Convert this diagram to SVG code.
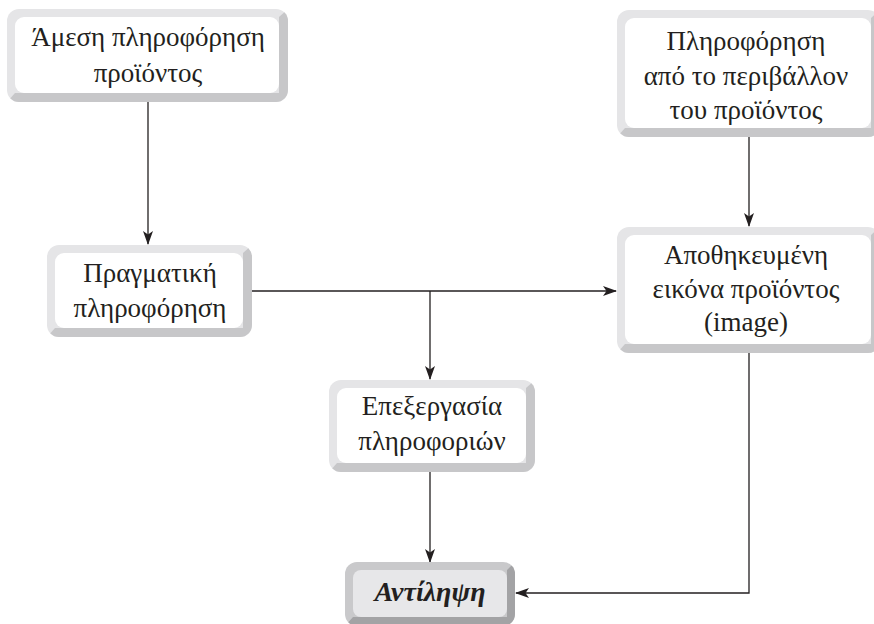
<svg xmlns="http://www.w3.org/2000/svg" width="874" height="624" viewBox="0 0 874 624">
<style>
.lt{fill:#e5e5e7}
.dk{fill:#c7c7c9}
.in{fill:#ffffff}
.lt2{fill:#c9c9cb}
.dk2{fill:#a3a3a5}
.in2{fill:#e7e7e9}
.t{font-family:"Liberation Serif","DejaVu Serif",serif;font-size:27px;fill:#231f20;text-anchor:middle}
.tb{font-weight:bold;font-style:italic;font-size:28px}
.c{fill:none;stroke:#231f20;stroke-width:1.3}
</style>
<defs>
<marker id="ah" viewBox="0 0 14 10" refX="13" refY="5" markerWidth="14" markerHeight="10" markerUnits="userSpaceOnUse" orient="auto">
<path d="M0,0 L14,5 L0,10 L3.5,5 Z" fill="#231f20"/>
</marker>
<clipPath id="c1"><rect x="7" y="9" width="281" height="93" rx="12"/></clipPath>
<clipPath id="c2"><rect x="617" y="10" width="263" height="127" rx="12"/></clipPath>
<clipPath id="c3"><rect x="47" y="245" width="205" height="92" rx="12"/></clipPath>
<clipPath id="c4"><rect x="617" y="227" width="263" height="126" rx="12"/></clipPath>
<clipPath id="c5"><rect x="329" y="380" width="206" height="92" rx="12"/></clipPath>
<clipPath id="c6"><rect x="345" y="562" width="170" height="64" rx="12"/></clipPath>
</defs>

<g id="connectors">
<line class="c" x1="148" y1="102" x2="148" y2="244" marker-end="url(#ah)"/>
<line class="c" x1="252" y1="291" x2="616" y2="291" marker-end="url(#ah)"/>
<line class="c" x1="430" y1="291" x2="430" y2="379" marker-end="url(#ah)"/>
<line class="c" x1="749" y1="137" x2="749" y2="226" marker-end="url(#ah)"/>
<line class="c" x1="430" y1="472" x2="430" y2="562" marker-end="url(#ah)"/>
<polyline class="c" points="749,353 749,593 516,593" marker-end="url(#ah)"/>
</g>

<g id="n1">
<rect class="lt" x="7" y="9" width="281" height="93" rx="12"/>
<polygon class="dk" clip-path="url(#c1)" points="288,9 288,102 7,102 15,93 279,93 279,17"/>
<rect class="in" x="15" y="17" width="264" height="76" rx="9"/>
<text class="t" x="148" y="46">Άμεση πληροφόρηση</text>
<text class="t" x="148" y="82">προϊόντος</text>
</g>

<g id="n2">
<rect class="lt" x="617" y="10" width="263" height="127" rx="12"/>
<polygon class="dk" clip-path="url(#c2)" points="880,10 880,137 617,137 625,128 871,128 871,18"/>
<rect class="in" x="625" y="18" width="246" height="110" rx="9"/>
<text class="t" x="746" y="50">Πληροφόρηση</text>
<text class="t" x="746" y="85">από το περιβάλλον</text>
<text class="t" x="746" y="119">του προϊόντος</text>
</g>

<g id="n3">
<rect class="lt" x="47" y="245" width="205" height="92" rx="12"/>
<polygon class="dk" clip-path="url(#c3)" points="252,245 252,337 47,337 55,328 243,328 243,253"/>
<rect class="in" x="55" y="253" width="188" height="75" rx="9"/>
<text class="t" x="150" y="282">Πραγματική</text>
<text class="t" x="150" y="317">πληροφόρηση</text>
</g>

<g id="n4">
<rect class="lt" x="617" y="227" width="263" height="126" rx="12"/>
<polygon class="dk" clip-path="url(#c4)" points="880,227 880,353 617,353 625,344 871,344 871,235"/>
<rect class="in" x="625" y="235" width="246" height="109" rx="9"/>
<text class="t" x="746" y="264">Αποθηκευμένη</text>
<text class="t" x="746" y="298">εικόνα προϊόντος</text>
<text class="t" x="746" y="331">(image)</text>
</g>

<g id="n5">
<rect class="lt" x="329" y="380" width="206" height="92" rx="12"/>
<polygon class="dk" clip-path="url(#c5)" points="535,380 535,472 329,472 337,463 526,463 526,388"/>
<rect class="in" x="337" y="388" width="189" height="75" rx="9"/>
<text class="t" x="432" y="415">Επεξεργασία</text>
<text class="t" x="432" y="450">πληροφοριών</text>
</g>

<g id="n6">
<rect class="lt2" x="345" y="562" width="170" height="64" rx="12"/>
<polygon class="dk2" clip-path="url(#c6)" points="515,562 515,626 345,626 353,617 507,617 507,570"/>
<rect class="in2" x="353" y="570" width="154" height="47" rx="8"/>
<text class="t tb" x="430" y="601">Αντίληψη</text>
</g>
</svg>
